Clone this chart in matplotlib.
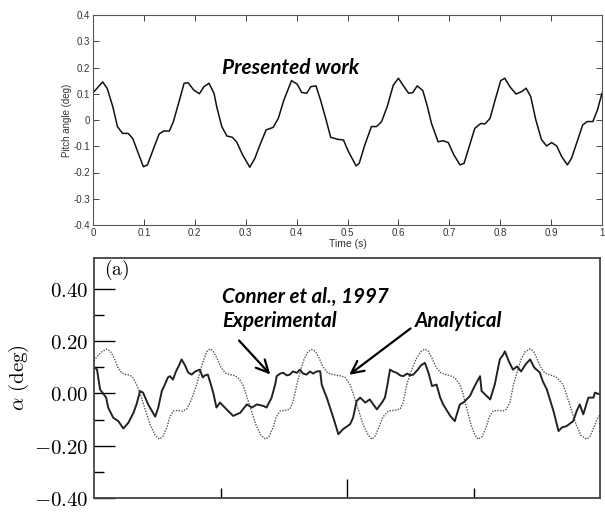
import matplotlib
matplotlib.use('Agg')
import matplotlib.pyplot as plt

plt.rcParams['mathtext.fontset'] = 'cm'

# top panel: presented work, pitch angle vs time
t_pres = [0.0, 0.019, 0.028, 0.039, 0.048, 0.058, 0.069, 0.078, 0.089, 0.099,
          0.107, 0.118, 0.130, 0.139, 0.150, 0.158, 0.168, 0.179, 0.187, 0.198,
          0.209, 0.218, 0.228, 0.238, 0.243, 0.253, 0.263, 0.274, 0.282, 0.294,
          0.308, 0.318, 0.328, 0.340, 0.354, 0.364, 0.375, 0.390, 0.401, 0.410,
          0.420, 0.428, 0.438, 0.447, 0.458, 0.467, 0.482, 0.492, 0.502, 0.517,
          0.523, 0.534, 0.547, 0.557, 0.567, 0.578, 0.590, 0.600, 0.610, 0.620,
          0.628, 0.637, 0.648, 0.657, 0.665, 0.678, 0.688, 0.698, 0.709, 0.721,
          0.729, 0.739, 0.750, 0.762, 0.770, 0.780, 0.790, 0.801, 0.809, 0.819,
          0.831, 0.842, 0.851, 0.860, 0.870, 0.881, 0.891, 0.901, 0.911, 0.921,
          0.932, 0.940, 0.950, 0.962, 0.971, 0.982, 0.991, 1.0]
pitch = [0.104, 0.145, 0.120, 0.050, -0.025, -0.051, -0.051, -0.070, -0.127, -0.178,
         -0.171, -0.114, -0.053, -0.042, -0.042, -0.006, 0.063, 0.140, 0.142, 0.114,
         0.100, 0.127, 0.140, 0.100, 0.051, -0.025, -0.061, -0.066, -0.083, -0.133,
         -0.180, -0.146, -0.095, -0.038, -0.028, 0.006, 0.076, 0.150, 0.137, 0.105,
         0.102, 0.127, 0.130, 0.076, 0.000, -0.066, -0.074, -0.076, -0.121, -0.175,
         -0.165, -0.095, -0.025, -0.025, -0.006, 0.051, 0.133, 0.159, 0.130, 0.102,
         0.104, 0.130, 0.112, 0.051, -0.013, -0.083, -0.079, -0.086, -0.133, -0.171,
         -0.165, -0.102, -0.032, -0.013, -0.015, 0.006, 0.076, 0.150, 0.159, 0.127,
         0.099, 0.108, 0.121, 0.089, 0.000, -0.074, -0.099, -0.086, -0.099, -0.140,
         -0.171, -0.146, -0.089, -0.019, -0.006, -0.006, 0.038, 0.102]

# bottom panel: Conner et al. 1997, experimental (solid)
t_exp = [0.000, 0.006, 0.012, 0.018, 0.024, 0.028, 0.038, 0.048, 0.058, 0.068,
         0.078, 0.084, 0.091, 0.097, 0.107, 0.121, 0.127, 0.134, 0.140, 0.146,
         0.150, 0.156, 0.162, 0.168, 0.173, 0.180, 0.186, 0.193, 0.200, 0.209,
         0.215, 0.219, 0.225, 0.231, 0.236, 0.242, 0.249, 0.262, 0.275, 0.289,
         0.302, 0.312, 0.322, 0.335, 0.341, 0.351, 0.358, 0.361, 0.368, 0.374,
         0.381, 0.387, 0.393, 0.401, 0.407, 0.413, 0.420, 0.427, 0.433, 0.440,
         0.447, 0.450, 0.455, 0.460, 0.473, 0.483, 0.492, 0.506, 0.512, 0.519,
         0.526, 0.536, 0.545, 0.559, 0.569, 0.575, 0.580, 0.585, 0.591, 0.598,
         0.605, 0.611, 0.619, 0.625, 0.631, 0.640, 0.646, 0.654, 0.661, 0.668,
         0.677, 0.684, 0.690, 0.704, 0.713, 0.723, 0.730, 0.743, 0.749, 0.755,
         0.763, 0.766, 0.776, 0.783, 0.792, 0.802, 0.809, 0.812, 0.820, 0.828,
         0.836, 0.844, 0.854, 0.862, 0.870, 0.881, 0.887, 0.895, 0.901, 0.908,
         0.918, 0.925, 0.934, 0.947, 0.954, 0.960, 0.967, 0.977, 0.987, 0.990,
         1.000]
alpha_exp = [0.102, 0.091, 0.015, 0.000, -0.016, -0.054, -0.093, -0.106, -0.134, -0.112,
             -0.074, -0.042, 0.009, 0.003, -0.042, -0.089, -0.054, 0.009, 0.034, 0.061,
             0.066, 0.053, 0.084, 0.107, 0.130, 0.107, 0.080, 0.072, 0.084, 0.091,
             0.061, 0.069, 0.072, 0.034, 0.000, -0.054, -0.035, -0.061, -0.086, -0.074,
             -0.042, -0.054, -0.042, -0.048, -0.054, -0.016, 0.034, 0.066, 0.076, 0.079,
             0.069, 0.072, 0.084, 0.079, 0.091, 0.076, 0.072, 0.084, 0.076, 0.084,
             0.085, 0.034, 0.008, -0.016, -0.093, -0.156, -0.137, -0.118, -0.093, -0.029,
             -0.016, -0.035, -0.023, -0.061, -0.035, -0.016, 0.034, 0.091, 0.084, 0.079,
             0.069, 0.066, 0.076, 0.069, 0.072, 0.091, 0.107, 0.117, 0.079, 0.028,
             0.034, -0.015, -0.042, -0.086, -0.106, -0.042, -0.035, -0.010, 0.015, 0.038,
             0.066, 0.009, -0.010, -0.023, 0.034, 0.130, 0.149, 0.161, 0.122, 0.091,
             0.103, 0.084, 0.114, 0.130, 0.099, 0.080, 0.046, 0.015, -0.023, -0.067,
             -0.144, -0.130, -0.125, -0.106, -0.067, -0.042, -0.080, -0.016, -0.016, 0.003,
             -0.004]

# bottom panel: analytical (dotted)
t_ana = [0.000, 0.008, 0.016, 0.025, 0.032, 0.040, 0.047, 0.055, 0.063, 0.071,
         0.077, 0.084, 0.091, 0.101, 0.111, 0.121, 0.129, 0.136, 0.144, 0.150,
         0.157, 0.166, 0.174, 0.183, 0.190, 0.196, 0.203, 0.209, 0.217, 0.223,
         0.229, 0.235, 0.243, 0.251, 0.259, 0.269, 0.279, 0.287, 0.294, 0.300,
         0.310, 0.320, 0.330, 0.339, 0.346, 0.354, 0.360, 0.368, 0.377, 0.387,
         0.393, 0.401, 0.407, 0.415, 0.423, 0.430, 0.437, 0.445, 0.453, 0.462,
         0.472, 0.486, 0.496, 0.506, 0.512, 0.522, 0.532, 0.542, 0.549, 0.555,
         0.563, 0.571, 0.582, 0.593, 0.605, 0.611, 0.618, 0.626, 0.636, 0.646,
         0.654, 0.660, 0.668, 0.676, 0.686, 0.696, 0.704, 0.713, 0.723, 0.729,
         0.737, 0.745, 0.753, 0.759, 0.767, 0.775, 0.781, 0.789, 0.800, 0.808,
         0.815, 0.822, 0.829, 0.836, 0.844, 0.852, 0.862, 0.868, 0.875, 0.883,
         0.891, 0.899, 0.907, 0.915, 0.927, 0.933, 0.943, 0.953, 0.962, 0.974,
         0.980, 0.988, 0.994, 1.000]
alpha_ana = [0.125, 0.145, 0.160, 0.170, 0.162, 0.135, 0.100, 0.078, 0.072, 0.070,
             0.060, 0.034, 0.000, -0.060, -0.120, -0.160, -0.175, -0.165, -0.130, -0.090,
             -0.067, -0.065, -0.068, -0.060, -0.035, -0.005, 0.034, 0.080, 0.130, 0.160,
             0.170, 0.163, 0.135, 0.100, 0.078, 0.072, 0.068, 0.055, 0.034, 0.000,
             -0.060, -0.120, -0.160, -0.175, -0.165, -0.130, -0.090, -0.067, -0.065, -0.060,
             -0.035, 0.034, 0.080, 0.130, 0.160, 0.168, 0.162, 0.135, 0.100, 0.078,
             0.072, 0.068, 0.062, 0.034, 0.000, -0.060, -0.120, -0.160, -0.175, -0.165,
             -0.130, -0.090, -0.067, -0.065, -0.060, -0.035, 0.034, 0.080, 0.130, 0.160,
             0.170, 0.163, 0.135, 0.100, 0.078, 0.072, 0.068, 0.060, 0.034, 0.000,
             -0.060, -0.120, -0.160, -0.175, -0.165, -0.130, -0.090, -0.067, -0.065, -0.068,
             -0.060, -0.035, 0.034, 0.080, 0.130, 0.160, 0.170, 0.163, 0.135, 0.100,
             0.078, 0.072, 0.068, 0.060, 0.034, 0.000, -0.060, -0.120, -0.160, -0.175,
             -0.165, -0.130, -0.100, -0.080]

top_yticks = [-0.4, -0.3, -0.2, -0.1, 0, 0.1, 0.2, 0.3, 0.4]
top_ylabels = ['-0.4', '-0.3', '-0.2', '-0.1', '0', '0.1', '0.2', '0.3', '0.4']
top_xticks = [0, 0.1, 0.2, 0.3, 0.4, 0.5, 0.6, 0.7, 0.8, 0.9, 1]
top_xlabels = ['0', '0.1', '0.2', '0.3', '0.4', '0.5', '0.6', '0.7', '0.8', '0.9', '1']
bot_yticks = [-0.4, -0.2, 0.0, 0.2, 0.4]
bot_ylabels = [r'$-0.40$', r'$-0.20$', r'$0.00$', r'$0.20$', r'$0.40$']

note_font = dict(family='Lato', fontweight='bold', fontstyle='italic')

fig = plt.figure(figsize=(6.05, 5.18), dpi=100)

# ---- top panel
ax1 = fig.add_axes([93/605, 1-225/518, 509/605, 210/518])
ax1.plot(t_pres, pitch, color='#111111', lw=1.1)
ax1.set_xlim(0, 1)
ax1.set_ylim(-0.4, 0.4)
ax1.set_xticks(top_xticks)
ax1.set_xticklabels(top_xlabels, fontsize=7, family='Liberation Sans', color='#333333')
ax1.set_yticks(top_yticks)
ax1.set_yticklabels(top_ylabels, fontsize=7, family='Liberation Sans', color='#333333')
ax1.tick_params(direction='in', length=4, width=0.7, top=True, right=True,
                color='#444444', pad=2)
for s in ax1.spines.values():
    s.set_color('#555555')
    s.set_linewidth(0.8)
ax1.set_xlabel('Time (s)', fontsize=7.5, family='Liberation Sans', color='#333333', labelpad=1)
ax1.set_ylabel('Pitch angle (deg)', fontsize=7, family='Liberation Sans', color='#333333', labelpad=1)
ax1.text(0.253, 0.748, 'Presented work', transform=ax1.transAxes, fontsize=15,
         ha='left', va='center', **note_font)

# ---- bottom panel
ax2 = fig.add_axes([94/605, 1-498/518, 506/605, 240/518])
ax2.plot(t_ana, alpha_ana, color='#555555', lw=1.0, linestyle=(0, (1, 1)))
ax2.plot(t_exp, alpha_exp, color='#222222', lw=1.4)
ax2.set_xlim(0, 1)
ax2.set_ylim(-0.4, 0.518)
ax2.set_yticks(bot_yticks)
ax2.set_yticklabels(bot_ylabels, fontsize=15)
ax2.set_yticks([-0.3, -0.1, 0.1, 0.3], minor=True)
ax2.set_xticks([0.5])
ax2.set_xticklabels([])
ax2.set_xticks([0.25, 0.75], minor=True)
ax2.tick_params(axis='y', which='major', direction='in', length=15, width=1.0, pad=4)
ax2.tick_params(axis='y', which='minor', direction='in', length=7, width=1.0)
ax2.tick_params(axis='x', which='major', direction='in', length=14, width=1.0)
ax2.tick_params(axis='x', which='minor', direction='in', length=7, width=1.0)
for s in ax2.spines.values():
    s.set_color('#444444')
    s.set_linewidth(1.3)
ax2.set_ylabel(r'$\alpha\ \mathrm{(deg)}$', fontsize=15, labelpad=2)
ax2.text(0.02, 0.95, r'$\mathrm{(a)}$', transform=ax2.transAxes, fontsize=14,
         ha='left', va='center')

ax2.text(0.253, 0.37, 'Conner et al., 1997', fontsize=14.8, ha='left', va='center', **note_font)
ax2.text(0.253, 0.278, 'Experimental', fontsize=14.8, ha='left', va='center', **note_font)
ax2.text(0.634, 0.278, 'Analytical', fontsize=14.8, ha='left', va='center', **note_font)
ax2.annotate('', xy=(0.352, 0.065), xytext=(0.283, 0.21),
             arrowprops=dict(arrowstyle='->', color='black', lw=1.6, mutation_scale=22))
ax2.annotate('', xy=(0.5, 0.065), xytext=(0.63, 0.255),
             arrowprops=dict(arrowstyle='->', color='black', lw=1.6, mutation_scale=22))

fig.savefig('out.png', dpi=100)
